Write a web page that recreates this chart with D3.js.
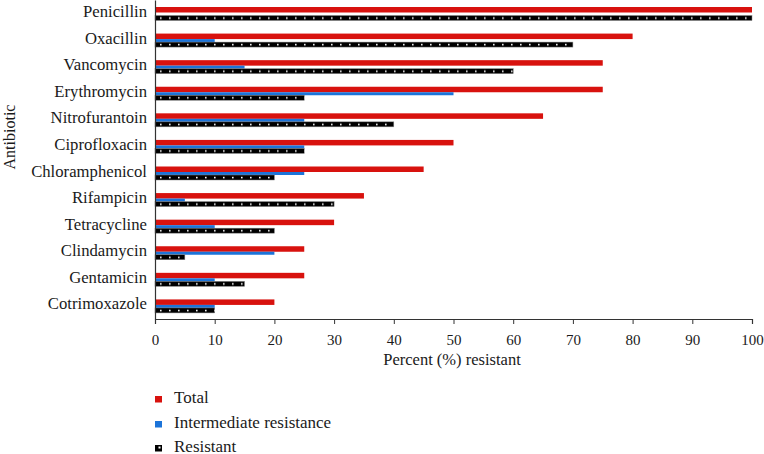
<!DOCTYPE html>
<html><head><meta charset="utf-8">
<script src="https://cdn.jsdelivr.net/npm/d3@7"></script>
<style>body{margin:0;background:#fff}svg{display:block}text{font-family:"Liberation Serif","DejaVu Serif",serif !important;fill:#1a1a1a}</style>
</head><body>
<script>
const categories = ["Penicillin","Oxacillin","Vancomycin","Erythromycin","Nitrofurantoin","Ciprofloxacin","Chloramphenicol","Rifampicin","Tetracycline","Clindamycin","Gentamicin","Cotrimoxazole"];
const totalValues = [100,80,75,75,65,50,45,35,30,25,25,20];
const intermediateValues = [0,10,15,50,25,25,25,5,10,20,10,10];
const resistantValues = [100,70,60,25,40,25,20,30,20,5,15,10];
const xTicks = [0,10,20,30,40,50,60,70,80,90,100];
const seriesNames = ["Total","Intermediate resistance","Resistant"];

const W=764,H=454;
const FONT="'Liberation Serif','DejaVu Serif',serif";
const svg=d3.select("body").append("svg").attr("width",W).attr("height",H).attr("font-family",FONT);
const defs=svg.append("defs");

const x=d3.scaleLinear().domain([0,100]).range([155,752]);
const y=d3.scaleBand().domain(categories).range([0,319]).padding(0);

const RED="#d8120e", BLUE="#1c74d9";
const g=svg.append("g");
categories.forEach((c,i)=>{
  const y0=y(c)+7;
  g.append("rect").attr("x",x(0)).attr("y",y0).attr("width",x(totalValues[i])-x(0)).attr("height",5.5).attr("fill",RED);
  g.append("rect").attr("x",x(0)).attr("y",y0+5.5).attr("width",x(intermediateValues[i])-x(0)).attr("height",3).attr("fill",BLUE);
  const bp=defs.append("pattern").attr("id","dots"+i).attr("patternUnits","userSpaceOnUse")
    .attr("width",9).attr("height",5).attr("x",157).attr("y",y0+8.5);
  bp.append("rect").attr("width",9).attr("height",5).attr("fill","#000");
  bp.append("rect").attr("x",3).attr("y",1.8).attr("width",1.6).attr("height",1.6).attr("fill","#fff");
  g.append("rect").attr("x",x(0)).attr("y",y0+8.5).attr("width",x(resistantValues[i])-x(0)).attr("height",5)
    .attr("fill","url(#dots"+i+")").attr("stroke","#888").attr("stroke-width",0.5);
});

// axes
const xa=svg.append("g").attr("transform","translate(0,319)")
  .call(d3.axisBottom(x).tickValues(xTicks).tickSize(5));
xa.attr("font-family",FONT);
xa.select(".domain").attr("stroke","#333").attr("stroke-width",1.2);
xa.selectAll(".tick line").attr("stroke","#333");
xa.selectAll("text").attr("font-size",15).attr("y",26).attr("dy",0).attr("fill","#1a1a1a").style("font-family",FONT);

const ya=svg.append("g").attr("transform","translate(155,0)")
  .call(d3.axisLeft(y).tickSize(0).tickPadding(8));
ya.attr("font-family",FONT);
ya.select(".domain").attr("stroke","#333").attr("stroke-width",1.2);
ya.selectAll(".tick").attr("transform",d=>`translate(0,${y(d)})`);
ya.selectAll(".tick text").attr("font-size",16.7).attr("dy",0).attr("y",17).attr("fill","#1a1a1a").style("font-family",FONT);

svg.append("text").attr("x",452).attr("y",365).attr("text-anchor","middle").attr("font-size",16.5).style("font-family",FONT).text("Percent (%) resistant");
svg.append("text").attr("transform","translate(15,137) rotate(-90)").attr("text-anchor","middle").attr("font-size",16).style("font-family",FONT).text("Antibiotic");

// legend
const ly=[403,428,452];
seriesNames.forEach((n,i)=>{
  if(i<2){
    svg.append("rect").attr("x",155).attr("y",ly[i]-7).attr("width",7).attr("height",6.5).attr("fill",i===0?RED:BLUE);
  } else {
    svg.append("rect").attr("x",155).attr("y",ly[i]-7).attr("width",7).attr("height",6.5).attr("fill","#000");
    svg.append("rect").attr("x",158.5).attr("y",ly[i]-5.5).attr("width",2).attr("height",2).attr("fill","#fff");
  }
  svg.append("text").attr("x",174).attr("y",ly[i]).attr("font-size",17).style("font-family",FONT).text(n);
});
</script>
</body></html>
